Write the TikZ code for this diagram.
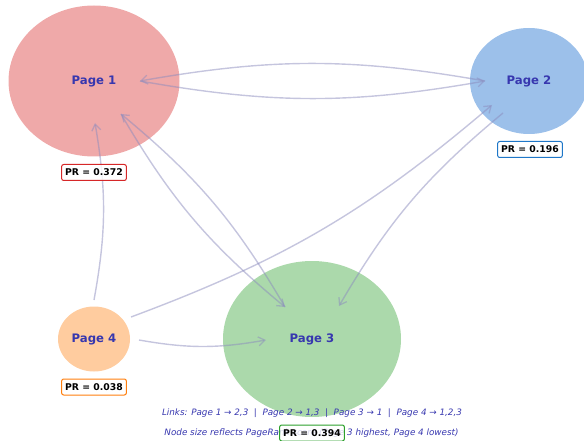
\documentclass[tikz,border=0pt]{standalone}
\usepackage{fontspec}
\setmainfont{DejaVu Sans}
\usetikzlibrary{shapes.geometric,arrows.meta}
\definecolor{pA}{RGB}{239,169,169}
\definecolor{pB}{RGB}{156,192,234}
\definecolor{pC}{RGB}{171,217,171}
\definecolor{pD}{RGB}{255,204,159}
\definecolor{txtc}{RGB}{55,55,175}
\definecolor{edgec}{RGB}{140,140,190}
\definecolor{bA}{RGB}{214,39,40}
\definecolor{bB}{RGB}{31,119,200}
\definecolor{bC}{RGB}{44,160,44}
\definecolor{bD}{RGB}{255,127,14}
\tikzset{
  pagenode/.style={ellipse, inner sep=0pt, text=txtc, font=\fontsize{11.7}{13}\selectfont\bfseries},
  prbox/.style={draw, fill=white, fill opacity=0.8, text opacity=1, draw opacity=1, rounded corners=2pt, line width=1pt, text=black,
     font=\fontsize{9.3}{11}\selectfont\bfseries, inner xsep=3.5pt, inner ysep=0pt, minimum height=16pt},
  link/.style={draw=edgec, line width=1.4pt, draw opacity=0.5,
     -{Straight Barb[length=6.5pt,width=9pt,line width=1.3pt]}, bend right=10},
  foot/.style={text=txtc, font=\fontsize{8.8}{10}\selectfont\itshape, inner sep=0pt}
}
\begin{document}
\begin{tikzpicture}[x=1pt,y=1pt]
\useasboundingbox (0,0) rectangle (584,-441);
\clip (0,0) rectangle (584,-441);
% nodes
\node[pagenode, fill=pA, minimum width=171pt, minimum height=151pt] (p1) at (94,-81) {Page 1};
\node[pagenode, fill=pB, minimum width=118pt, minimum height=106pt] (p2) at (529,-81) {Page 2};
\node[pagenode, fill=pC, minimum width=178pt, minimum height=156pt] (p3) at (312,-339) {Page 3};
\node[pagenode, fill=pD, minimum width=72pt, minimum height=65pt] (p4) at (94,-339) {Page 4};
% edge end points
\coordinate (a1r) at (140,-81);
\coordinate (a2l) at (485,-81);
\coordinate (a1d) at (121,-114);
\coordinate (a3u) at (285,-307);
\coordinate (a2d) at (503,-113);
\coordinate (a3r) at (339,-306);
\coordinate (a4u) at (94,-300);
\coordinate (a1b) at (95,-123);
\coordinate (a4r) at (131,-317);
\coordinate (a2b) at (492,-105);
\coordinate (a4e) at (139,-340);
\coordinate (a3l) at (266,-340);
% edges
\draw[link] (a1r) to (a2l);
\draw[link] (a2l) to (a1r);
\draw[link] (a1d) to (a3u);
\draw[link] (a3u) to (a1d);
\draw[link] (a2d) to (a3r);
\draw[link] (a4u) to (a1b);
\draw[link] (a4r) to (a2b);
\draw[link] (a4e) to (a3l);
% footer
\node[foot] (f1) at (312,-413) {Links: Page 1 → 2,3 \ | \ Page 2 → 1,3 \ | \ Page 3 → 1 \ | \ Page 4 → 1,2,3};
\node[foot] (f2) at (311.5,-433) {Node size reflects PageRank score (Page 3 highest, Page 4 lowest)};
% PR boxes
\node[prbox, draw=bA] (r1) at (94,-172.5) {PR = 0.372};
\node[prbox, draw=bB] (r2) at (530,-149.5) {PR = 0.196};
\node[prbox, draw=bC] (r3) at (312,-433) {PR = 0.394};
\node[prbox, draw=bD] (r4) at (94,-387) {PR = 0.038};
\end{tikzpicture}
\end{document}
